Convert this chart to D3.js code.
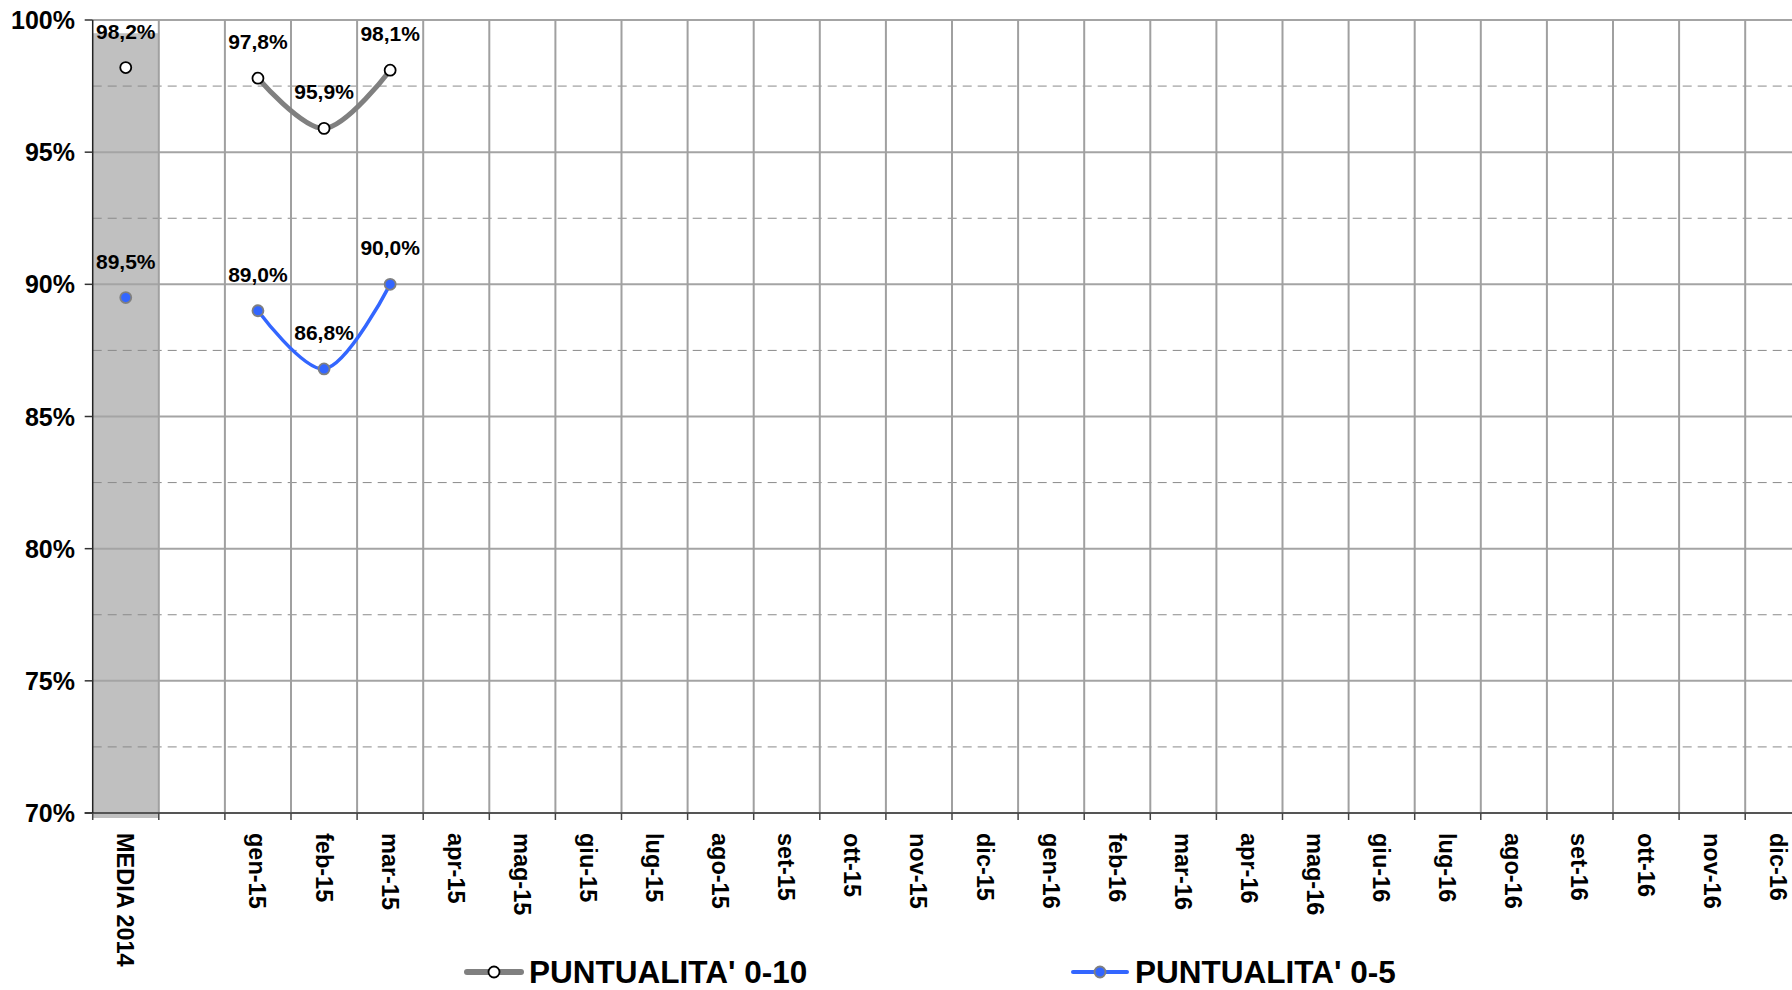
<!DOCTYPE html>
<html>
<head>
<meta charset="utf-8">
<script src="https://cdn.jsdelivr.net/npm/d3@7"></script>
<style>
  body { margin: 0; background: #fff; }
  svg { display: block; font-family: "Liberation Sans", Arial, sans-serif; font-weight: bold; }
</style>
</head>
<body>
<svg id="chart" width="1792" height="990"></svg>
<script>
(function() {

  // categories on the x axis (the second one is an empty spacer)
  let categories = ["MEDIA 2014", " ", "gen-15", "feb-15", "mar-15", "apr-15", "mag-15", "giu-15",
                    "lug-15", "ago-15", "set-15", "ott-15", "nov-15", "dic-15", "gen-16", "feb-16",
                    "mar-16", "apr-16", "mag-16", "giu-16", "lug-16", "ago-16", "set-16", "ott-16",
                    "nov-16", "dic-16"];

  // series values (percent)
  let punt010_media = [["MEDIA 2014", 98.2]];
  let punt010 = [["gen-15", 97.8], ["feb-15", 95.9], ["mar-15", 98.1]];
  let punt05_media = [["MEDIA 2014", 89.5]];
  let punt05 = [["gen-15", 89.0], ["feb-15", 86.8], ["mar-15", 90.0]];
  let mediaBand = [["MEDIA 2014", 99.5]];

  let yMajor = [70, 75, 80, 85, 90, 95, 100];
  let yMinor = [72.5, 77.5, 82.5, 87.5, 92.5, 97.5];

  let left = 92.7;
  let bandW = 66.1;
  let top = 20;
  let bottom = 813;

  let svg = d3.select("#chart");

  let xScale = d3.scaleBand()
                 .domain(categories)
                 .range([left, left + bandW * categories.length])
                 .padding(0);
  let yScale = d3.scaleLinear()
                 .domain([70, 100])
                 .range([bottom, top]);

  let fmt = v => d3.format(".1f")(v).replace(".", ",") + "%";

  // grey band behind MEDIA 2014
  svg.selectAll(".band")
     .data(mediaBand)
     .enter().append("rect")
     .attr("x", d => xScale(d[0]))
     .attr("y", d => yScale(d[1]))
     .attr("width", xScale.bandwidth())
     .attr("height", d => yScale(70) - yScale(d[1]) + 5)
     .attr("fill", "#c0c0c0");

  // minor dashed gridlines
  svg.selectAll(".minor")
     .data(yMinor)
     .enter().append("line")
     .attr("x1", left).attr("x2", 1792)
     .attr("y1", d => yScale(d)).attr("y2", d => yScale(d))
     .attr("stroke", "#8a8a8a")
     .attr("stroke-width", 1)
     .attr("stroke-dasharray", "9,6");

  // major gridlines
  svg.selectAll(".major")
     .data(yMajor.filter(v => v > 70))
     .enter().append("line")
     .attr("x1", left).attr("x2", 1792)
     .attr("y1", d => yScale(d)).attr("y2", d => yScale(d))
     .attr("stroke", "#a4a4a4")
     .attr("stroke-width", 2);

  // vertical gridlines at category boundaries
  svg.selectAll(".vgrid")
     .data(categories.slice(1))
     .enter().append("line")
     .attr("x1", d => xScale(d)).attr("x2", d => xScale(d))
     .attr("y1", top).attr("y2", bottom)
     .attr("stroke", "#a0a0a0")
     .attr("stroke-width", 2);

  // axes
  svg.append("line")
     .attr("x1", left - 8).attr("x2", 1792)
     .attr("y1", bottom).attr("y2", bottom)
     .attr("stroke", "#555").attr("stroke-width", 2);
  svg.append("line")
     .attr("x1", left).attr("x2", left)
     .attr("y1", top).attr("y2", bottom)
     .attr("stroke", "#222").attr("stroke-width", 1.5);

  svg.selectAll(".ytick")
     .data(yMajor)
     .enter().append("line")
     .attr("x1", left - 8).attr("x2", left)
     .attr("y1", d => yScale(d)).attr("y2", d => yScale(d))
     .attr("stroke", "#333").attr("stroke-width", 1.5);

  svg.selectAll(".xtick")
     .data(categories)
     .enter().append("line")
     .attr("x1", d => xScale(d)).attr("x2", d => xScale(d))
     .attr("y1", bottom).attr("y2", bottom + 7)
     .attr("stroke", "#444").attr("stroke-width", 1.5);

  svg.selectAll(".ylabel")
     .data(yMajor)
     .enter().append("text")
     .attr("x", 75)
     .attr("y", d => yScale(d))
     .attr("dy", "0.36em")
     .attr("text-anchor", "end")
     .attr("font-size", "25px")
     .attr("fill", "#000")
     .text(d => d + "%");

  svg.selectAll(".xlabel")
     .data(categories)
     .enter().append("text")
     .attr("transform", d => "translate(" + (xScale(d) + xScale.bandwidth() / 2) + "," + (bottom + 20) + ") rotate(90)")
     .attr("dy", "0.36em")
     .attr("text-anchor", "start")
     .attr("font-size", "23.5px")
     .attr("fill", "#000")
     .text(d => d.trim());

  // lines
  let line = d3.line()
               .x(d => xScale(d[0]) + xScale.bandwidth() / 2)
               .y(d => yScale(d[1]))
               .curve(d3.curveCatmullRom.alpha(0.5));

  svg.append("path")
     .datum(punt010)
     .attr("fill", "none")
     .attr("stroke", "#808080")
     .attr("stroke-width", 5)
     .attr("stroke-linecap", "round")
     .attr("d", line);

  svg.append("path")
     .datum(punt05)
     .attr("fill", "none")
     .attr("stroke", "#3366ff")
     .attr("stroke-width", 3.5)
     .attr("stroke-linecap", "round")
     .attr("d", line);

  function markers(data, fill, stroke) {
    svg.append("g").selectAll("circle")
       .data(data)
       .enter().append("circle")
       .attr("cx", d => xScale(d[0]) + xScale.bandwidth() / 2)
       .attr("cy", d => yScale(d[1]))
       .attr("r", 5.5)
       .attr("fill", fill)
       .attr("stroke", stroke)
       .attr("stroke-width", 1.8);
  }
  markers(punt010_media.concat(punt010), "#fff", "#000");
  markers(punt05_media.concat(punt05), "#3366ff", "#808080");

  // data labels
  function labels(data) {
    svg.append("g").selectAll("text")
       .data(data)
       .enter().append("text")
       .attr("x", d => xScale(d[0]) + xScale.bandwidth() / 2)
       .attr("y", d => yScale(d[1]) - 29)
       .attr("text-anchor", "middle")
       .attr("font-size", "21px")
       .attr("fill", "#000")
       .text(d => fmt(d[1]));
  }
  labels(punt010_media.concat(punt010));
  labels(punt05_media.concat(punt05));

  // legend
  let legend = [
    { name: "PUNTUALITA' 0-10", x: 467, stroke: "#808080", width: 6, fill: "#fff", mstroke: "#000" },
    { name: "PUNTUALITA' 0-5", x: 1073, stroke: "#3366ff", width: 4, fill: "#3366ff", mstroke: "#808080" }
  ];
  let lg = svg.selectAll(".legend")
              .data(legend)
              .enter().append("g")
              .attr("transform", d => "translate(" + d.x + ",972)");
  lg.append("line")
    .attr("x1", 0).attr("x2", 54)
    .attr("stroke", d => d.stroke)
    .attr("stroke-width", d => d.width)
    .attr("stroke-linecap", "round");
  lg.append("circle")
    .attr("cx", 27).attr("r", 5.5)
    .attr("fill", d => d.fill)
    .attr("stroke", d => d.mstroke)
    .attr("stroke-width", 1.8);
  lg.append("text")
    .attr("x", 62).attr("y", 11)
    .attr("font-size", "31.5px")
    .attr("fill", "#000")
    .text(d => d.name);

})();
</script>
</body>
</html>
